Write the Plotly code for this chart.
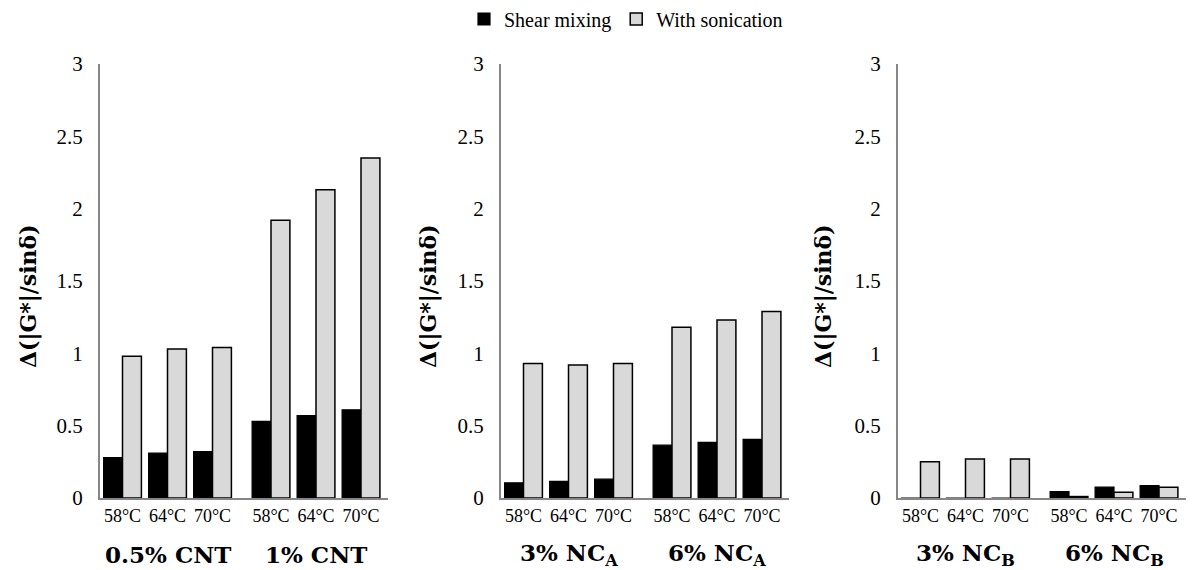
import plotly.graph_objects as go

# ---- data ----
temps = ["58°C", "64°C", "70°C"]
panel_groups = [
    ["0.5% CNT", "1% CNT"],
    ["3% NC<sub>A</sub>", "6% NC<sub>A</sub>"],
    ["3% NC<sub>B</sub>", "6% NC<sub>B</sub>"],
]
shear_cnt = [0.28, 0.31, 0.32, 0.53, 0.57, 0.61]
sonic_cnt = [0.98, 1.03, 1.04, 1.92, 2.13, 2.35]
shear_nca = [0.105, 0.115, 0.13, 0.365, 0.385, 0.405]
sonic_nca = [0.93, 0.92, 0.93, 1.18, 1.23, 1.29]
shear_ncb = [-0.01, -0.01, 0.0, 0.045, 0.075, 0.085]
sonic_ncb = [0.25, 0.27, 0.27, 0.01, 0.04, 0.075]

shear_all = [shear_cnt, shear_nca, shear_ncb]
sonic_all = [sonic_cnt, sonic_nca, sonic_ncb]
yticks = [0, 0.5, 1, 1.5, 2, 2.5, 3]
ylabel = "Δ(|G*|/sinδ)"

W, H = 1197, 570
OFF = 8  # page body margin offset
FONT = "Liberation Serif"
BOLD_FONT = "DejaVu Serif"
GAP = 0.3  # extra space between the two groups


def px(v):
    return (v - OFF) / W


def py(v):
    return 1 - (v - OFF) / H


x_domains = [[px(100), px(388)], [px(501), px(789)], [px(898), px(1186)]]
y_domain = [py(498), py(64)]

fig = go.Figure()
annotations = []
for p in range(3):
    positions = [i + (GAP if i >= 3 else 0) for i in range(6)]
    xa = "x" if p == 0 else f"x{p+1}"
    ya = "y" if p == 0 else f"y{p+1}"
    fig.add_trace(go.Bar(
        x=positions, y=shear_all[p], name="Shear mixing", xaxis=xa, yaxis=ya,
        marker=dict(color="black", line=dict(color="black", width=1.2)),
        showlegend=(p == 0), legendgroup="s"))
    fig.add_trace(go.Bar(
        x=positions, y=sonic_all[p], name="With sonication", xaxis=xa, yaxis=ya,
        marker=dict(color="#d9d9d9", line=dict(color="black", width=1.5)),
        showlegend=(p == 0), legendgroup="w"))
    xkey = "xaxis" if p == 0 else f"xaxis{p+1}"
    ykey = "yaxis" if p == 0 else f"yaxis{p+1}"
    fig.layout[xkey] = dict(
        domain=x_domains[p], anchor=ya, range=[-0.5, 5.9],
        tickmode="array", tickvals=positions, ticktext=temps * 2,
        showline=True, linecolor="#868686", linewidth=2, ticks="",
        showgrid=False, zeroline=False,
        tickfont=dict(family=FONT, size=18, color="black"))
    fig.layout[ykey] = dict(
        domain=y_domain, anchor=xa, range=[0, 3],
        tickmode="array", tickvals=yticks, ticktext=[f"{v:g}" for v in yticks],
        showline=True, linecolor="#868686", linewidth=2, ticks="",
        showgrid=False, zeroline=False, ticklabelstandoff=11,
        tickfont=dict(family=FONT, size=21, color="black"))
    # group labels
    for g in range(2):
        cx = sum(positions[g * 3:(g + 1) * 3]) / 3
        annotations.append(dict(
            x=cx, y=py(554), xref=xa, yref="paper", text=panel_groups[p][g],
            showarrow=False, xanchor="center", yanchor="middle",
            font=dict(family=BOLD_FONT, size=23, color="black", weight="bold")))
    # y title
    annotations.append(dict(
        x=px([28, 428, 823][p]), y=py(296), xref="paper", yref="paper",
        text=ylabel, textangle=-90, showarrow=False,
        xanchor="center", yanchor="middle",
        font=dict(family=BOLD_FONT, size=22, color="black", weight="bold")))

fig.update_layout(
    width=W, height=H, barmode="group", bargap=0.16, bargroupgap=0,
    margin=dict(l=0, r=0, t=0, b=0, autoexpand=False),
    paper_bgcolor="white", plot_bgcolor="white",
    font=dict(family=FONT, color="black"),
    legend=dict(orientation="h", x=px(626), y=py(19), xanchor="center",
                yanchor="middle", font=dict(family=FONT, size=20),
                itemwidth=30, tracegroupgap=0, itemclick=False),
    annotations=annotations,
)

fig.write_html("out.html")
